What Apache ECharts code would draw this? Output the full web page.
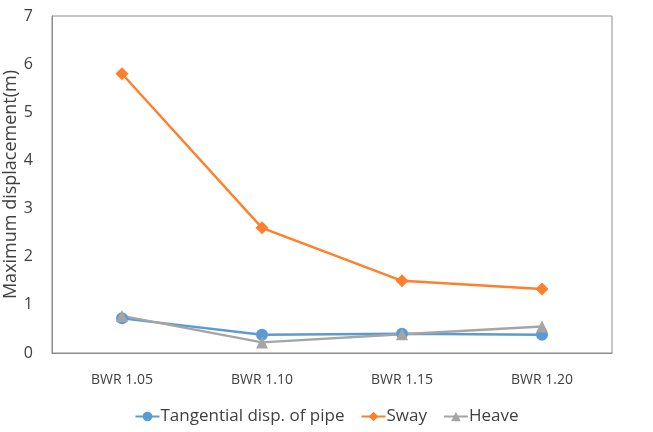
<!DOCTYPE html>
<html><head><meta charset="utf-8">
<script src="https://cdn.jsdelivr.net/npm/echarts@6/dist/echarts.min.js"></script>
<style>html,body{margin:0;padding:0;background:#fff}#c{width:653px;height:432px}</style>
</head><body><div id="c"></div>
<script>
const categories = ['BWR 1.05','BWR 1.10','BWR 1.15','BWR 1.20'];
const tangential = [0.72, 0.38, 0.40, 0.38];
const sway = [5.80, 2.60, 1.50, 1.33];
const heave = [0.77, 0.22, 0.39, 0.55];
const yTicks = [0,1,2,3,4,5,6,7];

const FONT = '"Open Sans", Lato, sans-serif';
const chart = echarts.init(document.getElementById('c'));
chart.setOption({
  animation:false,
  backgroundColor:'#fff',
  textStyle:{fontFamily:FONT},
  grid:{left:52,right:41,top:16,bottom:79,show:true,borderColor:'#8c8c8c',borderWidth:1,
    backgroundColor:'transparent',outerBoundsMode:'none',containLabel:false},
  xAxis:{type:'category',data:categories,boundaryGap:true,
    axisLine:{lineStyle:{color:'#8c8c8c'}},axisTick:{show:false},
    axisLabel:{color:'#404040',fontSize:14,margin:20,fontFamily:FONT}},
  yAxis:{type:'value',min:yTicks[0],max:yTicks[yTicks.length-1],interval:1,
    name:'Maximum displacement(m)',nameLocation:'middle',nameGap:41,nameMoveOverlap:false,
    nameTextStyle:{color:'#404040',fontSize:18,fontFamily:FONT,verticalAlign:'middle'},
    axisLine:{show:true,lineStyle:{color:'#8c8c8c'}},axisTick:{show:false},splitLine:{show:false},
    axisLabel:{color:'#404040',fontSize:16,margin:19,fontFamily:FONT}},
  legend:{bottom:2,left:'center',itemWidth:24,itemHeight:12,itemGap:16,
    textStyle:{color:'#404040',fontSize:17,fontFamily:FONT,padding:[0,0,0,-4]},
    data:['Tangential disp. of pipe','Sway','Heave']},
  series:[
    {name:'Tangential disp. of pipe',type:'line',data:tangential,symbol:'circle',symbolSize:12,
      itemStyle:{color:'#5b9bd5'},lineStyle:{color:'#5b9bd5',width:2.4}},
    {name:'Sway',type:'line',data:sway,symbol:'diamond',symbolSize:13,
      itemStyle:{color:'#ff7f2a'},lineStyle:{color:'#ff7f2a',width:2.4}},
    {name:'Heave',type:'line',data:heave,symbol:'triangle',symbolSize:12,
      itemStyle:{color:'#a5a5a5'},lineStyle:{color:'#a5a5a5',width:2.4}}
  ]
});
</script></body></html>
